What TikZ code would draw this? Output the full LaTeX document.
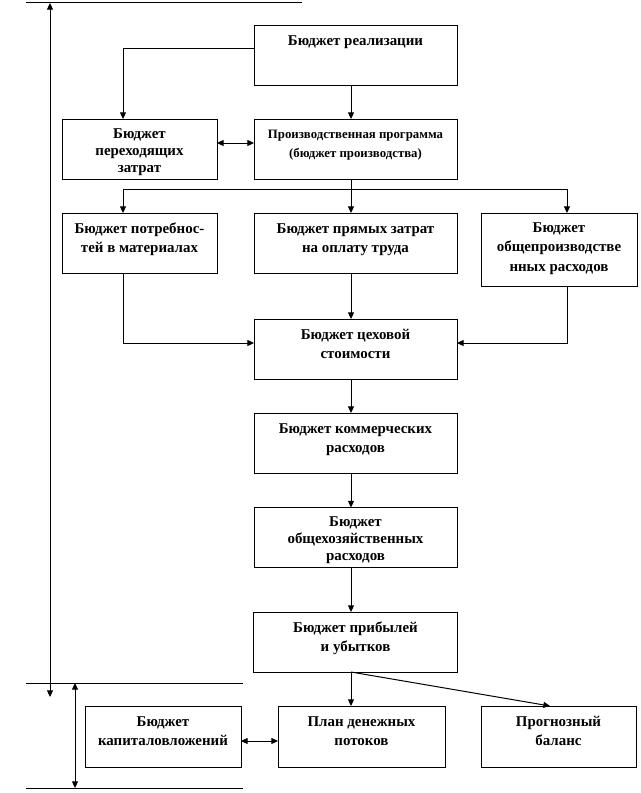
\documentclass[tikz,border=0pt]{standalone}
\usepackage{fontspec}
\setmainfont{Liberation Serif}
\usetikzlibrary{arrows.meta}
\newdimen\upx \upx=0.75pt
% [font size]{width px}{height px}{first baseline px}{baselineskip px}{text}
\newcommand\btext[6][11.2]{\parbox[c][#3\upx][t]{#2\upx}{\centering\fontsize{#1}{14}\selectfont\bfseries\baselineskip=#5\upx\rule{0pt}{#4\upx}#6\par}}
\tikzset{
  box/.style={draw, line width=0.75pt, inner sep=0pt, outer sep=0pt},
  ln/.style={line width=0.75pt},
  arr/.style={ln, -{Triangle[length=5pt,width=4.5pt]}},
  darr/.style={ln, {Triangle[length=5pt,width=4.5pt]}-{Triangle[length=5pt,width=4.5pt]}}
}
\begin{document}
\begin{tikzpicture}[x=0.75pt,y=-0.75pt]
\useasboundingbox (0,0) rectangle (641,793);
\fill[white] (0,0) rectangle (641,793);
% boxes
\node[box] (real)  at (355.5,55)  {\btext{203}{60}{20}{19}{Бюджет реализации}};
\node[box] (pere)  at (139.5,149) {\btext{155}{60}{19}{17}{Бюджет\\переходящих\\затрат}};
\node[box] (prog)  at (355.5,149) {\btext[9.6]{203}{60}{19}{19}{Производственная программа\\(бюджет производства)}};
\node[box] (potr)  at (139.5,243) {\btext{155}{60}{20}{19}{Бюджет потребнос-\\тей в материалах}};
\node[box] (pryam) at (355.5,243) {\btext{203}{60}{20}{19}{Бюджет прямых затрат\\на оплату труда}};
\node[box] (obpr)  at (559,249.5) {\btext{156}{73}{19}{19.5}{Бюджет\\общепроизводстве\\нных расходов}};
\node[box] (tseh)  at (355.5,349) {\btext{203}{60}{20}{19}{Бюджет цеховой\\стоимости}};
\node[box] (komm)  at (355.5,443) {\btext{203}{60}{20}{19}{Бюджет коммерческих\\расходов}};
\node[box] (obhoz) at (355.5,537.5) {\btext{203}{60}{19}{17}{Бюджет\\общехозяйственных\\расходов}};
\node[box] (prib)  at (355.5,642) {\btext{204}{60}{20}{19}{Бюджет прибылей\\и убытков}};
\node[box] (kap)   at (163,736.5) {\btext{156}{61}{20}{19}{Бюджет\\капиталовложений}};
\node[box] (plan)  at (361.5,736.5) {\btext{167}{61}{20}{19}{План денежных\\потоков}};
\node[box] (bal)   at (558.5,736.5) {\btext{155}{61}{20}{19}{Прогнозный\\баланс}};
% helper coordinates
\coordinate (spine) at (351,0);
\coordinate (lb) at (123,0);
\coordinate (rb) at (567,0);
\coordinate (dist) at (0,189);
\coordinate (mid) at (0,343);
\coordinate (rl) at (0,48);
\coordinate (bend) at (lb |- rl);
\coordinate (dl) at (lb |- dist);
\coordinate (dr) at (rb |- dist);
\coordinate (ds) at (spine |- dist);
\coordinate (ml) at (lb |- mid);
\coordinate (mr) at (rb |- mid);
\coordinate (balin) at (550,706);
% connectors
\draw[arr] (real.west |- rl) -- (bend) -- (pere.north -| lb);
\draw[arr] (real.south -| spine) -- (prog.north -| spine);
\draw[darr] (pere.east |- 0,143) -- (prog.west |- 0,143);
\draw[ln] (prog.south -| spine) -- (ds);
\draw[ln] (dl) -- (dr);
\draw[arr] (dl) -- (potr.north -| lb);
\draw[arr] (ds) -- (pryam.north -| spine);
\draw[arr] (dr) -- (obpr.north -| rb);
\draw[arr] (potr.south -| lb) -- (ml) -- (tseh.west |- mid);
\draw[arr] (obpr.south -| rb) -- (mr) -- (tseh.east |- mid);
\draw[arr] (pryam.south -| spine) -- (tseh.north -| spine);
\draw[arr] (tseh.south -| spine) -- (komm.north -| spine);
\draw[arr] (komm.south -| spine) -- (obhoz.north -| spine);
\draw[arr] (obhoz.south -| spine) -- (prib.north -| spine);
\draw[arr] (prib.south -| spine) -- (plan.north -| spine);
\draw[arr] (prib.south -| spine) -- (balin);
\draw[darr] (kap.east |- 0,741) -- (plan.west |- 0,741);
% left scale lines
\coordinate (a1) at (50,3);
\coordinate (a2) at (50,697);
\coordinate (b1) at (75,683);
\coordinate (b2) at (75,788);
\draw[ln] (26,2) -- (302,2);
\draw[ln] (26,683) -- (243,683);
\draw[ln] (26,788) -- (243,788);
\draw[darr] (a1) -- (a2);
\draw[darr] (b1) -- (b2);
\end{tikzpicture}
\end{document}
